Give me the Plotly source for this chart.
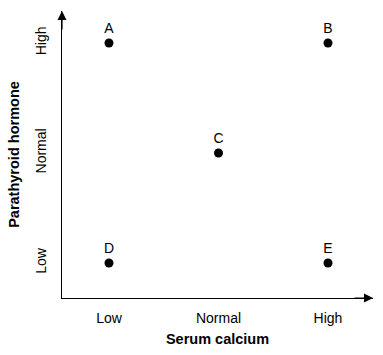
import plotly.graph_objects as go

labels = ["A", "B", "C", "D", "E"]
calcium = [0, 2, 1, 0, 2]      # 0=Low, 1=Normal, 2=High
pth = [2, 2, 1, 0, 0]          # 0=Low, 1=Normal, 2=High
tick_vals = [0, 1, 2]
tick_text = ["Low", "Normal", "High"]

FONT = "Liberation Sans, Arial, sans-serif"
FS = 14

fig = go.Figure(
    go.Scatter(
        x=calcium, y=pth, mode="markers+text", text=labels,
        textposition="top center",
        marker=dict(size=9, color="black"),
        textfont=dict(family=FONT, size=FS, color="black"),
        hoverinfo="skip", showlegend=False,
    )
)

fig.update_layout(
    width=383, height=355,
    margin=dict(l=62, r=10, t=11, b=57),
    paper_bgcolor="white", plot_bgcolor="white",
    font=dict(family=FONT, size=FS, color="black"),
)
fig.update_xaxes(
    range=[-0.429, 2.411], tickvals=tick_vals, ticktext=tick_text,
    showgrid=False, zeroline=False, showline=True, linecolor="black", linewidth=1.2,
    ticks="", ticklabelstandoff=7, automargin=False,
    tickfont=dict(size=FS),
    title=dict(text="<b>Serum calcium</b>", standoff=8, font=dict(size=14.5)),
)
fig.update_yaxes(
    range=[-0.318, 2.291], tickvals=tick_vals, ticktext=tick_text,
    showgrid=False, zeroline=False, showline=True, linecolor="black", linewidth=1.2,
    ticks="", tickangle=-90, ticklabelstandoff=9, automargin=False,
    tickfont=dict(size=FS),
    title=dict(text="<b>Parathyroid hormone</b>", standoff=10, font=dict(size=14.5)),
)

# arrowheads at the axis ends
fig.add_annotation(x=0, y=1, xref="paper", yref="paper", ax=0, ay=20,
                   showarrow=True, arrowhead=2, arrowsize=1.5, arrowwidth=1.2,
                   arrowcolor="black", text="")
fig.add_annotation(x=1, y=0, xref="paper", yref="paper", ax=-20, ay=0,
                   showarrow=True, arrowhead=2, arrowsize=1.5, arrowwidth=1.2,
                   arrowcolor="black", text="")

fig.write_html("out.html", config={"displayModeBar": False},
               post_script="document.body.style.margin='0';document.body.style.padding='0';")
